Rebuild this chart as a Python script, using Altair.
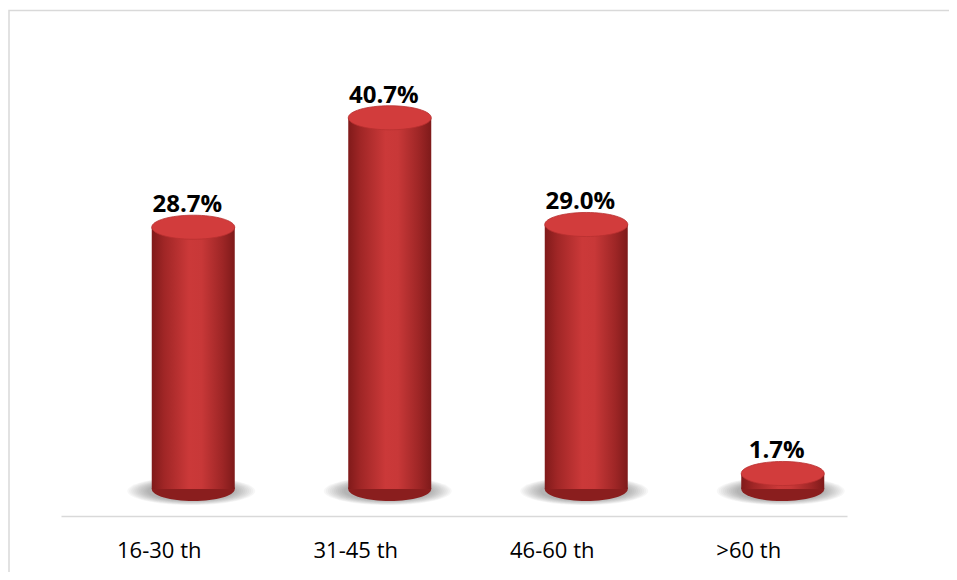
import altair as alt
import pandas as pd

categories = ["16-30 th", "31-45 th", "46-60 th", ">60 th"]
values = [28.7, 40.7, 29.0, 1.7]
labels = ["28.7%", "40.7%", "29.0%", "1.7%"]

df = pd.DataFrame({"cat": categories, "value": values, "label": labels, "zero": [0.0] * len(values)})

W, H = 786, 498
BAR = 83
OFF = 34
ELL = "M -1 0 A 1 0.29 0 1 1 1 0 A 1 0.29 0 1 1 -1 0 Z"
SHD = "M -1 0 A 1 0.22 0 1 1 1 0 A 1 0.22 0 1 1 -1 0 Z"

body_grad = alt.LinearGradient(
    gradient="linear", x1=0, x2=1, y1=0, y2=0,
    stops=[
        alt.GradientStop(offset=0.0, color="#801a1a"),
        alt.GradientStop(offset=0.15, color="#a02626"),
        alt.GradientStop(offset=0.45, color="#cb3939"),
        alt.GradientStop(offset=0.6, color="#c83838"),
        alt.GradientStop(offset=0.85, color="#9e2626"),
        alt.GradientStop(offset=1.0, color="#7e1a1a"),
    ],
)

x = alt.X(
    "cat:N", sort=categories,
    scale=alt.Scale(paddingInner=0, paddingOuter=0),
    axis=alt.Axis(
        title=None, labelAngle=0, ticks=False, labelPadding=24,
        labelFont="Open Sans", labelFontSize=22, labelColor="#000000",
        domainColor="#d9d9d9", domainWidth=1.6, grid=False,
    ),
)
y = alt.Y("value:Q", scale=alt.Scale(domain=[-2.96, 51.64], nice=False, zero=False), axis=None)
y0 = alt.Y("zero:Q", axis=None)

base = alt.Chart(df)

frame = alt.Chart(pd.DataFrame({"a": [0]})).mark_rect(
    fill="#ffffff", fillOpacity=0, stroke="#d9d9d9", strokeWidth=1.5
).encode(
    x=alt.value(-52), x2=alt.value(W + 250),
    y=alt.value(-7.5), y2=alt.value(H + 250),
)

layers = [frame]
for r in range(64, 42, -2):
    layers.append(
        base.mark_point(shape=SHD, filled=True, color="#4a4a4a", opacity=0.045,
                        size=(2 * r) ** 2, xOffset=OFF - 2, yOffset=2, strokeWidth=0)
        .encode(x=x, y=y0)
    )

bottom = base.mark_point(shape=ELL, filled=True, color="#8a1e1e", opacity=1,
                         size=BAR * BAR, xOffset=OFF, strokeWidth=0).encode(x=x, y=y0)
body = base.mark_bar(color=body_grad, size=BAR, xOffset=OFF).encode(x=x, y=y, y2="zero:Q")
top = base.mark_point(shape=ELL, filled=True, fill="#d23c3c", opacity=1,
                      size=BAR * BAR, xOffset=OFF, stroke="#b83030", strokeWidth=0.8).encode(x=x, y=y)
text = base.mark_text(font="Open Sans", fontSize=24, fontWeight="bold", color="#000000",
                      baseline="alphabetic", dy=-15, xOffset=28).encode(x=x, y=y, text="label:N")

layers += [bottom, body, top, text]

chart = alt.layer(*layers).properties(
    width=W, height=H,
    autosize=alt.AutoSizeParams(type="none"),
    padding={"left": 53, "top": 10, "right": 102, "bottom": 56},
).configure_view(strokeWidth=0)

chart.save("out.html", embed_options={"renderer": "svg", "actions": False})
